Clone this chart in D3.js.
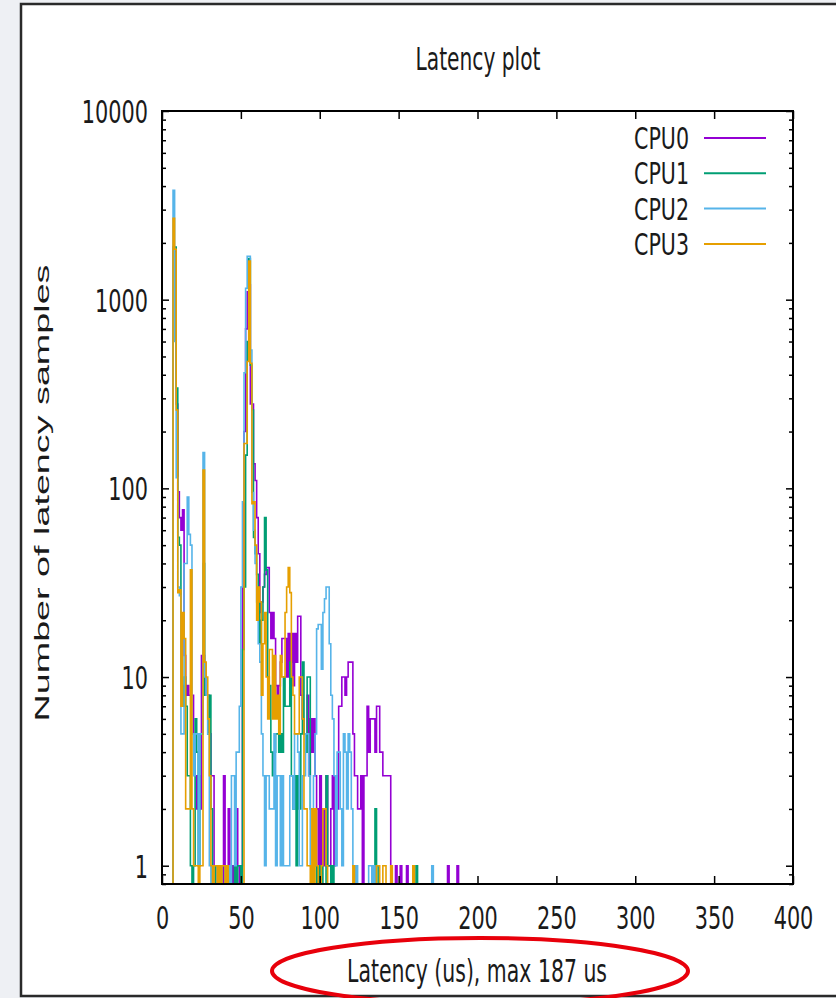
<!DOCTYPE html>
<html>
<head>
<meta charset="utf-8">
<script src="https://cdn.jsdelivr.net/npm/d3@7"></script>
<style>
  body { margin: 0; background: #eef0f4; }
  svg { display: block; }
</style>
</head>
<body>
<div id="chart"></div>
<script>
// latency histogram, one count per microsecond bin (index = us)
const cpu0 = [
  0,0,0,0,0,0,0,1900,1800,280,
  96,70,60,77,13,8,9,8,8,8,
  5,3,2,3,2,13,13,10,8,8,
  5,3,3,1,1,0,1,1,0,3,
  1,0,2,1,0,1,0,2,1,0,
  1,30,200,700,1100,1200,280,280,135,110,
  70,45,22,25,30,35,38,38,22,16,
  22,16,9,8,9,12,16,16,16,10,
  17,12,17,9,17,12,21,21,8,6,
  5,5,8,3,6,4,6,3,2,1,
  3,1,2,1,3,1,1,2,3,1,
  3,2,7,7,10,10,8,10,12,12,
  12,5,3,3,2,2,3,0,3,3,
  7,4,6,6,6,4,7,7,4,4,
  3,3,3,3,3,0,0,0,1,0,
  0,1,0,0,0,1,0,0,0,0,
  0,0,0,0,0,0,0,0,0,0,
  0,0,0,0,0,0,0,0,0,0,
  0,1,0,0,0,0,0,1,0,0,
  0
];
const cpu1 = [
  0,0,0,0,0,0,0,1900,1900,340,
  55,50,9,7,10,7,3,3,1,0,
  1,6,4,1,5,5,40,8,8,5,
  8,2,1,0,1,1,0,1,0,0,
  1,0,0,1,0,0,1,0,1,1,
  0,14,30,150,600,1650,450,260,55,45,
  35,25,15,20,30,70,37,10,9,4,
  3,4,5,5,4,5,4,10,7,7,
  7,12,3,2,3,1,3,2,5,12,
  5,4,10,10,2,2,1,1,0,1,
  0,1,0,0,3,1,1,0,1,0,
  0,0,0,0,0,0,0,0,0,0,
  0,0,0,0,0,0,0,0,0,0,
  0,0,0,0,0,2,1,0,0,0,
  0,0,0,0,0,0,0,0,0,0,
  0,0,0,0,0,0,0,0,0,0,
  0,1,0,0,0,0,0,0,0,0,
  0,0,0,0,0,0,0,0,0,0,
  0,0,0,0,0,0,0,0,0,0,
  0
];
const cpu2 = [
  0,0,0,0,0,0,0,3800,600,114,
  30,27,5,5,40,40,90,57,50,5,
  3,5,5,1,5,5,155,10,8,5,
  1,0,1,0,0,1,0,1,0,0,
  1,0,1,0,3,3,1,4,4,7,
  30,85,410,1150,1700,1700,540,95,60,40,
  25,15,12,5,3,1,3,3,2,2,
  2,5,1,3,3,1,3,1,1,1,
  1,3,3,2,5,5,4,1,1,3,
  3,5,5,3,1,1,3,5,18,19,
  19,11,22,26,30,30,15,8,6,3,
  1,4,4,2,1,5,4,2,5,4,
  2,1,0,1,0,0,0,0,0,0,
  0,1,1,0,1,0,0,0,0,0,
  0,0,0,0,0,0,0,0,0,0,
  0,0,0,0,0,0,0,0,0,0,
  0,0,0,0,0,0,0,0,0,0,
  0,1,0,0,0,0,0,0,0,0,
  0,0,0,0,0,0,0,0,0,0,
  0
];
const cpu3 = [
  0,0,0,0,0,0,0,2700,1850,260,
  28,29,7,22,16,2,2,2,37,2,
  1,1,1,0,1,1,125,12,10,6,
  3,1,0,1,1,0,1,0,1,1,
  0,1,0,0,0,0,0,0,0,0,
  0,0,173,173,470,1600,460,83,85,50,
  20,30,25,8,15,22,10,6,14,14,
  6,13,6,8,5,13,10,10,22,30,
  38,28,10,8,5,5,5,10,10,6,
  2,2,1,1,0,2,0,2,1,0,
  0,1,2,2,1,0,0,0,0,0,
  0,0,0,0,0,0,0,0,0,0,
  0,1,0,0,0,0,0,0,0,0,
  0,0,0,0,0,0,1,1,0,0,
  1,1,0,0,0,1,0,0,0,0,
  0,0,0,0,0,0,0,0,0,1,
  0,0,0,0,0,0,0,0,0,0,
  0,0,0,0,0,0,0,0,0,0,
  0,0,0,0,0,0,0,0,0,0,
  0
];
const series_names = ["CPU0", "CPU1", "CPU2", "CPU3"];
const series_colors = ["#9400d3", "#009e73", "#56b4e9", "#e69f00"];
const x_ticks = [0, 50, 100, 150, 200, 250, 300, 350, 400];
const y_ticks = [1, 10, 100, 1000, 10000];
const title_text = "Latency plot";
const x_label = "Latency (us), max 187 us";
const y_label = "Number of latency samples";

const width = 836,
      height = 998,
      margin = ({ top: 111, right: 43, bottom: 114, left: 162 }),
      font = "'DejaVu Sans', sans-serif";

const svg = d3.select("#chart")
    .append("svg")
    .attr("width", width)
    .attr("height", height);

// white panel with dark frame
svg.append("rect")
    .attr("x", 21).attr("y", 4)
    .attr("width", 840).attr("height", 992)
    .attr("fill", "#fff")
    .attr("stroke", "#2a2a2a")
    .attr("stroke-width", 2.5);

const x = d3.scaleLinear()
    .domain([0, 400])
    .range([margin.left, width - margin.right]);

const y = d3.scaleLog()
    .domain([0.8, 10000])
    .range([height - margin.bottom, margin.top])
    .clamp(true);

// squeeze text horizontally like the narrow gnuplot font
function condense(sel, k) {
    sel.each(function() {
        const w = this.getComputedTextLength();
        this.setAttribute("textLength", w * k);
        this.setAttribute("lengthAdjust", "spacingAndGlyphs");
    });
}

svg.append("clipPath").attr("id", "plot-clip")
  .append("rect")
    .attr("x", margin.left).attr("y", margin.top)
    .attr("width", width - margin.right - margin.left)
    .attr("height", height - margin.bottom - margin.top);

const line = d3.line()
    .x((d, i) => x(i))
    .y(d => y(d > 0 ? d : 0.5))
    .curve(d3.curveStepAfter);

const all_series = [cpu0, cpu1, cpu2, cpu3];

svg.append("g")
    .attr("clip-path", "url(#plot-clip)")
  .selectAll("path")
  .data(all_series)
  .join("path")
    .attr("d", d => line(d))
    .attr("fill", "none")
    .attr("stroke", (d, i) => series_colors[i])
    .attr("stroke-width", 1.6);

// minor log ticks from the scale itself
const minor = y.ticks().filter(v => !y_ticks.includes(v));

const bottom = svg.append("g")
    .attr("transform", `translate(0,${height - margin.bottom})`)
    .call(d3.axisBottom(x).tickValues(x_ticks).tickSizeInner(-8).tickSizeOuter(0).tickPadding(22));
svg.append("g")
    .attr("transform", `translate(0,${margin.top})`)
    .call(d3.axisTop(x).tickValues(x_ticks).tickSizeInner(-8).tickSizeOuter(0).tickFormat(""));

const left = svg.append("g")
    .attr("transform", `translate(${margin.left},0)`)
    .call(d3.axisLeft(y).tickValues(y_ticks).tickFormat(d3.format("d")).tickSizeInner(-7).tickSizeOuter(0).tickPadding(14));
svg.append("g")
    .attr("transform", `translate(${margin.left},0)`)
    .call(d3.axisLeft(y).tickValues(minor).tickFormat("").tickSizeInner(-4).tickSizeOuter(0));
svg.append("g")
    .attr("transform", `translate(${width - margin.right},0)`)
    .call(d3.axisRight(y).tickValues(y_ticks).tickFormat("").tickSizeInner(-7).tickSizeOuter(0));
svg.append("g")
    .attr("transform", `translate(${width - margin.right},0)`)
    .call(d3.axisRight(y).tickValues(minor).tickFormat("").tickSizeInner(-4).tickSizeOuter(0));

svg.selectAll(".domain").remove();
svg.selectAll(".tick line").attr("stroke", "#000").attr("stroke-width", 1.5);

[bottom, left].forEach(g => {
    g.selectAll("text")
        .attr("font-family", font)
        .attr("font-size", 32)
        .attr("fill", "#1a1a1a")
        .call(condense, 0.65);
});
left.selectAll("text").attr("dy", "0.36em");

// plot frame
svg.append("rect")
    .attr("x", margin.left).attr("y", margin.top)
    .attr("width", width - margin.right - margin.left)
    .attr("height", height - margin.bottom - margin.top)
    .attr("fill", "none")
    .attr("stroke", "#000")
    .attr("stroke-width", 2);

// title
svg.append("text")
    .attr("x", 478).attr("y", 70)
    .attr("text-anchor", "middle")
    .attr("font-family", font).attr("font-size", 32)
    .attr("fill", "#1a1a1a")
    .attr("textLength", 125).attr("lengthAdjust", "spacingAndGlyphs")
    .text(title_text);

// x axis label
svg.append("text")
    .attr("x", 477).attr("y", 982)
    .attr("text-anchor", "middle")
    .attr("font-family", font).attr("font-size", 32)
    .attr("fill", "#1a1a1a")
    .attr("textLength", 260).attr("lengthAdjust", "spacingAndGlyphs")
    .text(x_label);

// y axis label
svg.append("text")
    .attr("transform", "translate(49,493) rotate(-90)")
    .attr("text-anchor", "middle")
    .attr("font-family", "'Liberation Sans', Arial, sans-serif")
    .attr("font-size", 21)
    .attr("fill", "#1a1a1a")
    .attr("textLength", 457).attr("lengthAdjust", "spacingAndGlyphs")
    .text(y_label);

// legend
const legend = svg.append("g")
  .selectAll("g")
  .data(series_names)
  .join("g")
    .attr("transform", (d, i) => `translate(0,${138 + i * 35.3})`);

legend.append("text")
    .attr("x", 689).attr("y", 11)
    .attr("text-anchor", "end")
    .attr("font-family", font).attr("font-size", 31)
    .attr("fill", "#1a1a1a")
    .attr("textLength", 55).attr("lengthAdjust", "spacingAndGlyphs")
    .text(d => d);

legend.append("line")
    .attr("x1", 704).attr("x2", 766)
    .attr("stroke", (d, i) => series_colors[i])
    .attr("stroke-width", 2);

// red marker around the x label
svg.append("ellipse")
    .attr("cx", 480).attr("cy", 971)
    .attr("rx", 208).attr("ry", 33)
    .attr("fill", "none")
    .attr("stroke", "#e8000b")
    .attr("stroke-width", 4);
</script>
</body>
</html>
